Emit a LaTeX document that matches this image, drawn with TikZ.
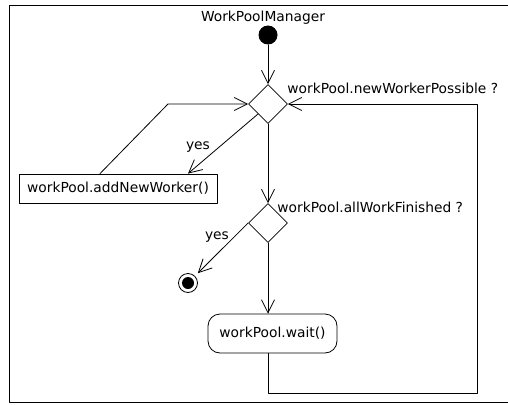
\documentclass[tikz,border=0pt]{standalone}
\usepackage{fontspec}
\setmainfont{DejaVu Sans}[Scale=1.38]
\usetikzlibrary{calc,arrows.meta,shapes.geometric}

\begin{document}
\begin{tikzpicture}[x=1pt, y=-1pt, line cap=round, line join=round, line width=0.8pt]
      \useasboundingbox (0,0) rectangle (508,404);
      \tikzset{
          lab/.style={inner sep=0pt},
          startdot/.style={circle, fill=black, minimum size=19pt, inner sep=0pt},
          enddot/.style={circle, draw, minimum size=19pt, inner sep=0pt,
              path picture={\fill (path picture bounding box.center) circle (6pt);}},
          decision/.style={diamond, draw, minimum width=39pt, minimum height=39pt, inner sep=0pt},
          action/.style={rectangle, draw, lab, minimum width=198pt, minimum height=29pt},
          activity/.style={rectangle, draw, rounded corners=12pt, lab, minimum width=129pt, minimum height=39pt},
          flow/.style={-{Straight Barb[length=13pt, width=13pt]}}
      }

      % --- frame (its right side runs off the picture)
      \draw (512,5) -- (9,5) -- (9,402) -- (512,402);

      % --- nodes
      \node[lab] (title) at (263,18) {WorkPoolManager};
      \node[startdot] (start) at (268,35) {};

      \node[decision] (dec1) at (268,104) {};
      \node[decision] (dec2) at (268,223) {};

      \node[action] (addw) at (118,188.5) {workPool.addNewWorker()};
      \node[enddot] (stop) at (188,283) {};
      \node[activity] (wait) at (272.5,333.5) {workPool.wait()};

      % --- guard texts
      \node[lab, anchor=west] (g1) at (287,88) {workPool.newWorkerPossible ?};
      \node[lab, anchor=west] (g2) at (277,207) {workPool.allWorkFinished ?};
      \node[lab] (yes1) at (198,147) {yes};
      \node[lab] (yes2) at (217,237) {yes};

      % --- bends
      \coordinate (back) at (168,104);
      \coordinate (loopA) at (268,393);
      \coordinate (loopB) at (477,393);
      \coordinate (loopC) at (477,104);

      % --- flows
      \draw[flow] (start) -- (dec1.north);
      \draw[flow] ($(dec1.west)!0.5!(dec1.south)$) -- ([xshift=70pt]addw.north);
      \draw[flow] ([xshift=-18pt]addw.north) -- (back) -- (dec1.west);
      \draw[flow] (dec1.south) -- (dec2.north);
      \draw[flow, shorten >=4pt] (dec2.west) -- (stop);
      \draw[flow] (dec2.south) -- (dec2.south |- wait.north);
      \draw[flow] (dec2.south |- wait.south) -- (loopA) -- (loopB) -- (loopC) -- (dec1.east);

\end{tikzpicture}
\end{document}
